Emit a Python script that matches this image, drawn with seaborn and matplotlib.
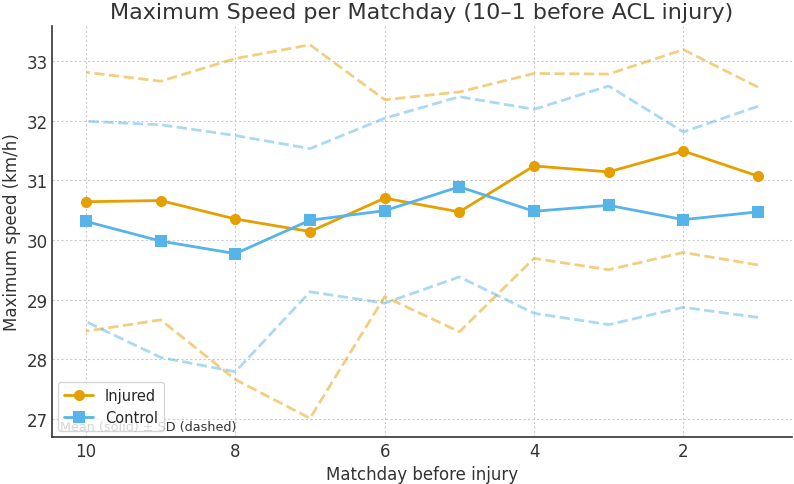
import matplotlib
matplotlib.use('Agg')
import matplotlib.pyplot as plt
import seaborn as sns
import numpy as np
import pandas as pd

sns.set_style("white")
plt.rcParams['font.family'] = ['DejaVu Sans']

matchdays = [10, 9, 8, 7, 6, 5, 4, 3, 2, 1]
injured_mean = [30.64, 30.66, 30.35, 30.14, 30.70, 30.47, 31.24, 31.14, 31.49, 31.07]
injured_sd = [2.17, 2.00, 2.69, 3.13, 1.65, 2.01, 1.55, 1.64, 1.70, 1.49]
control_mean = [30.31, 29.98, 29.77, 30.33, 30.49, 30.89, 30.48, 30.58, 30.34, 30.47]
control_sd = [1.68, 1.95, 1.98, 1.20, 1.55, 1.51, 1.71, 2.00, 1.47, 1.77]

orange = '#E69F00'
blue = '#56B4E9'
text_col = '#333333'

fig, ax = plt.subplots(figsize=(7.94, 4.85), dpi=100)

groups = [("Injured", injured_mean, injured_sd, orange, 'o'),
          ("Control", control_mean, control_sd, blue, 's')]

for name, mean, sd, col, mk in groups:
    mean = np.array(mean)
    sd = np.array(sd)
    sns.lineplot(x=matchdays, y=mean, ax=ax, color=col, marker=mk, markersize=8,
                 markeredgewidth=0, linewidth=2, label=name)
    # dashed band edges: mean +/- SD
    sns.lineplot(x=matchdays, y=mean + sd, ax=ax, color=col, linestyle='--',
                 linewidth=2, alpha=0.5)
    sns.lineplot(x=matchdays, y=mean - sd, ax=ax, color=col, linestyle='--',
                 linewidth=2, alpha=0.5)

ax.invert_xaxis()
ax.set_xticks([10, 8, 6, 4, 2])
ax.set_title("Maximum Speed per Matchday (10–1 before ACL injury)", fontsize=16, color=text_col)
ax.set_xlabel("Matchday before injury", fontsize=12, color=text_col)
ax.set_ylabel("Maximum speed (km/h)", fontsize=12, color=text_col)
ax.tick_params(direction='in', length=4, labelsize=12, colors=text_col)

ax.grid(True, linestyle=(0, (2, 2)), color='#cccccc', linewidth=0.8)
sns.despine(ax=ax)
for s in ['left', 'bottom']:
    ax.spines[s].set_color(text_col)
    ax.spines[s].set_linewidth(1.2)

ax.text(0.01, 0.01, "Mean (solid) ± SD (dashed)", transform=ax.transAxes,
        fontsize=9.2, color=text_col, va='bottom', ha='left')
ax.legend(loc='lower left', fontsize=10.5, framealpha=0.8, borderaxespad=0.4)

plt.subplots_adjust(left=0.066, right=0.997, top=0.944, bottom=0.097)
plt.savefig('out.png', dpi=100)
